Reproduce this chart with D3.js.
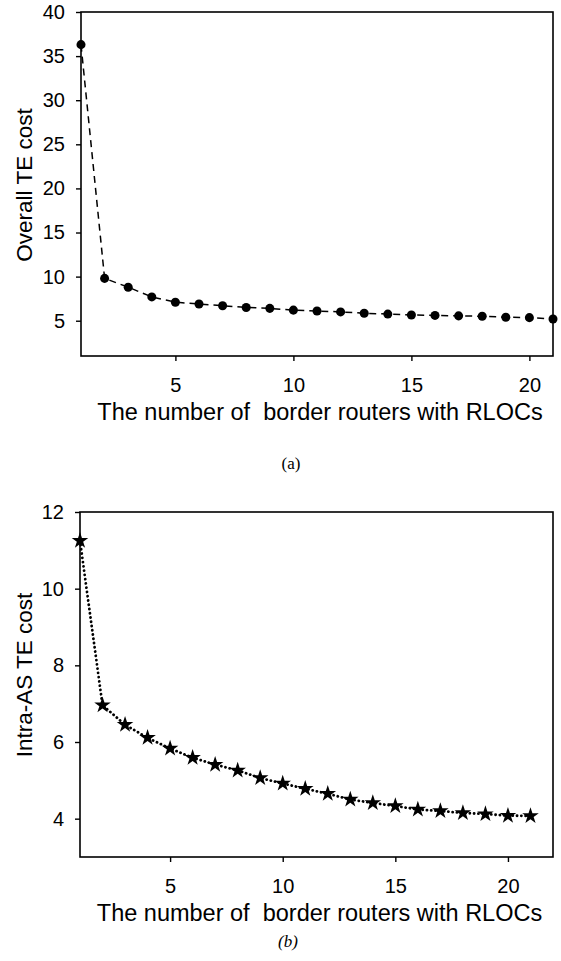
<!DOCTYPE html>
<html>
<head>
<meta charset="utf-8">
<script src="https://cdn.jsdelivr.net/npm/d3@7"></script>
<style>
  body { margin: 0; background: #fff; }
  svg { display: block; font-family: "Liberation Sans", Arial, sans-serif; }
</style>
</head>
<body>
<svg id="chart" width="561" height="961"></svg>
<script>
// number of border routers with RLOCs
const routers = d3.range(1, 22);

// (a) overall TE cost
const overallCost = [36.3, 9.8, 8.8, 7.7, 7.1, 6.9, 6.7, 6.5, 6.4, 6.2, 6.1,
                     6.0, 5.85, 5.75, 5.65, 5.6, 5.55, 5.5, 5.4, 5.35, 5.2];
// (b) intra-AS TE cost
const intraCost = [11.25, 6.96, 6.45, 6.11, 5.83, 5.59, 5.41, 5.26, 5.06, 4.92, 4.78,
                   4.65, 4.5, 4.41, 4.33, 4.24, 4.2, 4.15, 4.12, 4.08, 4.07];

const xTicks = [5, 10, 15, 20];
const yTicksA = [5, 10, 15, 20, 25, 30, 35, 40];
const yTicksB = [4, 6, 8, 10, 12];

const xTitle = "The number of  border routers with RLOCs";

const svg = d3.select("#chart");

const drawPanel = (opt) => {

    const x = d3.scaleLinear().domain(opt.xDomain).range([opt.left, opt.right]);
    const y = d3.scaleLinear().domain(opt.yDomain).range([opt.bottom, opt.top]);

    const g = svg.append("g");

    // frame
    g.append("rect")
        .attr("x", opt.left)
        .attr("y", opt.top)
        .attr("width", opt.right - opt.left)
        .attr("height", opt.bottom - opt.top)
        .attr("fill", "none")
        .attr("stroke", "#000")
        .attr("stroke-width", 1.6);

    // axes
    const yAxis = g.append("g")
        .attr("transform", `translate(${opt.left},0)`)
        .call(d3.axisLeft(y).tickValues(opt.yTicks).tickSize(5).tickPadding(11).tickFormat(d3.format("d")));
    const xAxis = g.append("g")
        .attr("transform", `translate(0,${opt.bottom})`)
        .call(d3.axisBottom(x).tickValues(xTicks).tickSize(5).tickPadding(17).tickFormat(d3.format("d")));

    [yAxis, xAxis].forEach(a => {
        a.select(".domain").remove();
        a.selectAll("line").attr("stroke", "#000").attr("stroke-width", 1.4);
        a.selectAll("text")
            .attr("fill", "#000")
            .style("font-family", "'Liberation Sans', Arial, sans-serif")
            .style("font-size", "20px");
    });

    // axis titles
    g.append("text")
        .attr("transform", `translate(${opt.yTitleX},${opt.yTitleY}) rotate(-90)`)
        .attr("text-anchor", "middle")
        .style("font-size", "22.5px")
        .text(opt.yTitle);

    g.append("text")
        .attr("x", (opt.left + opt.right) / 2 + 3)
        .attr("y", opt.bottom + 64)
        .attr("text-anchor", "middle")
        .attr("xml:space", "preserve")
        .style("white-space", "pre")
        .style("font-size", "23.5px")
        .text(xTitle);

    // caption
    g.append("text")
        .attr("x", opt.capX)
        .attr("y", opt.capY)
        .attr("text-anchor", "middle")
        .style("font-family", "'Liberation Serif', 'Times New Roman', serif")
        .style("font-style", opt.capItalic ? "italic" : "normal")
        .style("font-size", "17px")
        .text(opt.caption);

    // series line
    const line = d3.line()
        .x((d, i) => x(routers[i]))
        .y(d => y(d));

    g.append("path")
        .datum(opt.values)
        .attr("d", line)
        .attr("fill", "none")
        .attr("stroke", "#000")
        .attr("stroke-width", opt.lineWidth)
        .attr("stroke-linecap", opt.linecap)
        .attr("stroke-dasharray", opt.dash);

    // markers
    g.selectAll(".mark")
        .data(opt.values)
        .enter()
        .append("path")
            .attr("class", "mark")
            .attr("transform", (d, i) => `translate(${x(routers[i])},${y(d)})`)
            .attr("d", d3.symbol().type(opt.symbol).size(opt.symbolSize))
            .attr("fill", "#000");
}

drawPanel({
    values: overallCost,
    xDomain: [1, 21], yDomain: [1, 40], yTicks: yTicksA,
    left: 81, right: 553, top: 12, bottom: 356,
    yTitle: "Overall TE cost", yTitleX: 32, yTitleY: 185,
    caption: "(a)", capX: 291, capY: 469, capItalic: false,
    dash: "7,5", lineWidth: 1.5, linecap: "butt",
    symbol: d3.symbolCircle, symbolSize: 64
});

drawPanel({
    values: intraCost,
    xDomain: [1, 22], yDomain: [3, 12], yTicks: yTicksB,
    left: 80, right: 553, top: 512, bottom: 857,
    yTitle: "Intra-AS TE cost", yTitleX: 32, yTitleY: 675,
    caption: "(b)", capX: 288, capY: 947, capItalic: true,
    dash: "0.1,4.2", lineWidth: 2.8, linecap: "round",
    symbol: d3.symbolStar, symbolSize: 85
});
</script>
</body>
</html>
